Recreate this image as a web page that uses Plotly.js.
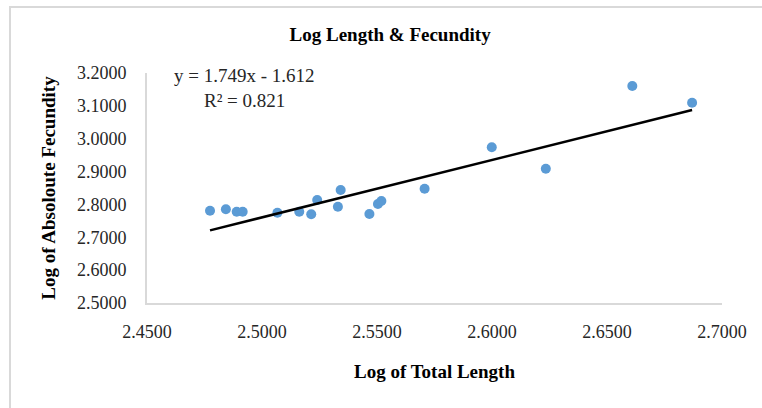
<!DOCTYPE html>
<html>
<head>
<meta charset="utf-8">
<script src="https://cdn.plot.ly/plotly-3.0.1.min.js"></script>
<style>
  html, body { margin: 0; padding: 0; background: #fff; }
  #wrap { position: relative; width: 762px; height: 408px; overflow: hidden; }
  #chart { position: absolute; left: 0; top: 0; width: 762px; height: 408px; }
  #frame { position: absolute; left: 9px; top: 6px; width: 800px; height: 450px;
           border-left: 2px solid #d9d9d9; border-top: 2px solid #d9d9d9; pointer-events: none; }
</style>
</head>
<body>
<div id="wrap">
  <div id="chart"></div>
  <div id="frame"></div>
</div>
<script>
// Data
const logLength = [2.4774, 2.4843, 2.4890, 2.4916, 2.5067, 2.5162, 2.5214, 2.5240, 2.5330,
                   2.5342, 2.5467, 2.5504, 2.5519, 2.5707, 2.5999, 2.6234, 2.6610, 2.6870];
const logFecundity = [2.7809, 2.7851, 2.7778, 2.7778, 2.7748, 2.7778, 2.7699, 2.8134, 2.7931,
                      2.8439, 2.7708, 2.8013, 2.8104, 2.8479, 2.9738, 2.9087, 3.1604, 3.1096];
// Linear trendline as printed on the chart
const trendSlope = 1.749;
const trendIntercept = -1.612;
const trendR2 = 0.821;
const xTicks = [2.45, 2.50, 2.55, 2.60, 2.65, 2.70];
const yTicks = [2.5, 2.6, 2.7, 2.8, 2.9, 3.0, 3.1, 3.2];

const xMin = Math.min(...logLength), xMax = Math.max(...logLength);
const trendX = [xMin, xMax];
const trendY = trendX.map(v => trendSlope * v + trendIntercept);

const serif = "'Liberation Serif', 'Times New Roman', serif";
const FS = 19;

const traces = [
  {
    x: logLength, y: logFecundity, type: 'scatter', mode: 'markers',
    marker: { color: '#5b9bd5', size: 10 }, showlegend: false, hoverinfo: 'x+y'
  },
  {
    x: trendX, y: trendY, type: 'scatter', mode: 'lines',
    line: { color: '#000000', width: 2.5 }, showlegend: false, hoverinfo: 'skip'
  }
];

const layout = {
  width: 762, height: 408,
  margin: { l: 147, r: 40, t: 73, b: 105 },
  paper_bgcolor: '#ffffff', plot_bgcolor: '#ffffff',
  font: { family: serif, color: '#262626', size: FS },
  title: {
    text: 'Log Length &amp; Fecundity',
    font: { family: serif, size: FS, color: '#000000', weight: 'bold' },
    x: 0.512, xanchor: 'center', y: 0.915, yanchor: 'middle'
  },
  xaxis: {
    range: [2.45, 2.70], tickvals: xTicks, tickformat: '.4f',
    showgrid: false, zeroline: false, showline: true, linecolor: '#d9d9d9', linewidth: 2,
    ticks: '', ticklabelstandoff: 11,
    tickfont: { family: serif, size: FS - 1, color: '#262626' },
    title: { text: 'Log of Total Length', standoff: 24,
             font: { family: serif, size: FS, color: '#000000', weight: 'bold' } },
    fixedrange: true
  },
  yaxis: {
    range: [2.5, 3.2], tickvals: yTicks, tickformat: '.4f',
    showgrid: false, zeroline: false, showline: true, linecolor: '#d9d9d9', linewidth: 2,
    ticks: '', ticklabelstandoff: 15,
    tickfont: { family: serif, size: FS - 1, color: '#262626' },
    title: { text: 'Log of Absoloute Fecundity', standoff: 16,
             font: { family: serif, size: FS, color: '#000000', weight: 'bold' } },
    fixedrange: true
  },
  annotations: [
    {
      xref: 'paper', yref: 'paper', x: 0.1704, y: 0.99, xanchor: 'center', yanchor: 'middle',
      text: 'y = ' + trendSlope.toFixed(3) + 'x - ' + Math.abs(trendIntercept).toFixed(3),
      showarrow: false, font: { family: serif, size: FS, color: '#262626' }
    },
    {
      xref: 'paper', yref: 'paper', x: 0.1704, y: 0.88, xanchor: 'center', yanchor: 'middle',
      text: 'R² = ' + trendR2.toFixed(3),
      showarrow: false, font: { family: serif, size: FS, color: '#262626' }
    }
  ]
};

Plotly.newPlot('chart', traces, layout, { displayModeBar: false, staticPlot: true });
</script>
</body>
</html>
